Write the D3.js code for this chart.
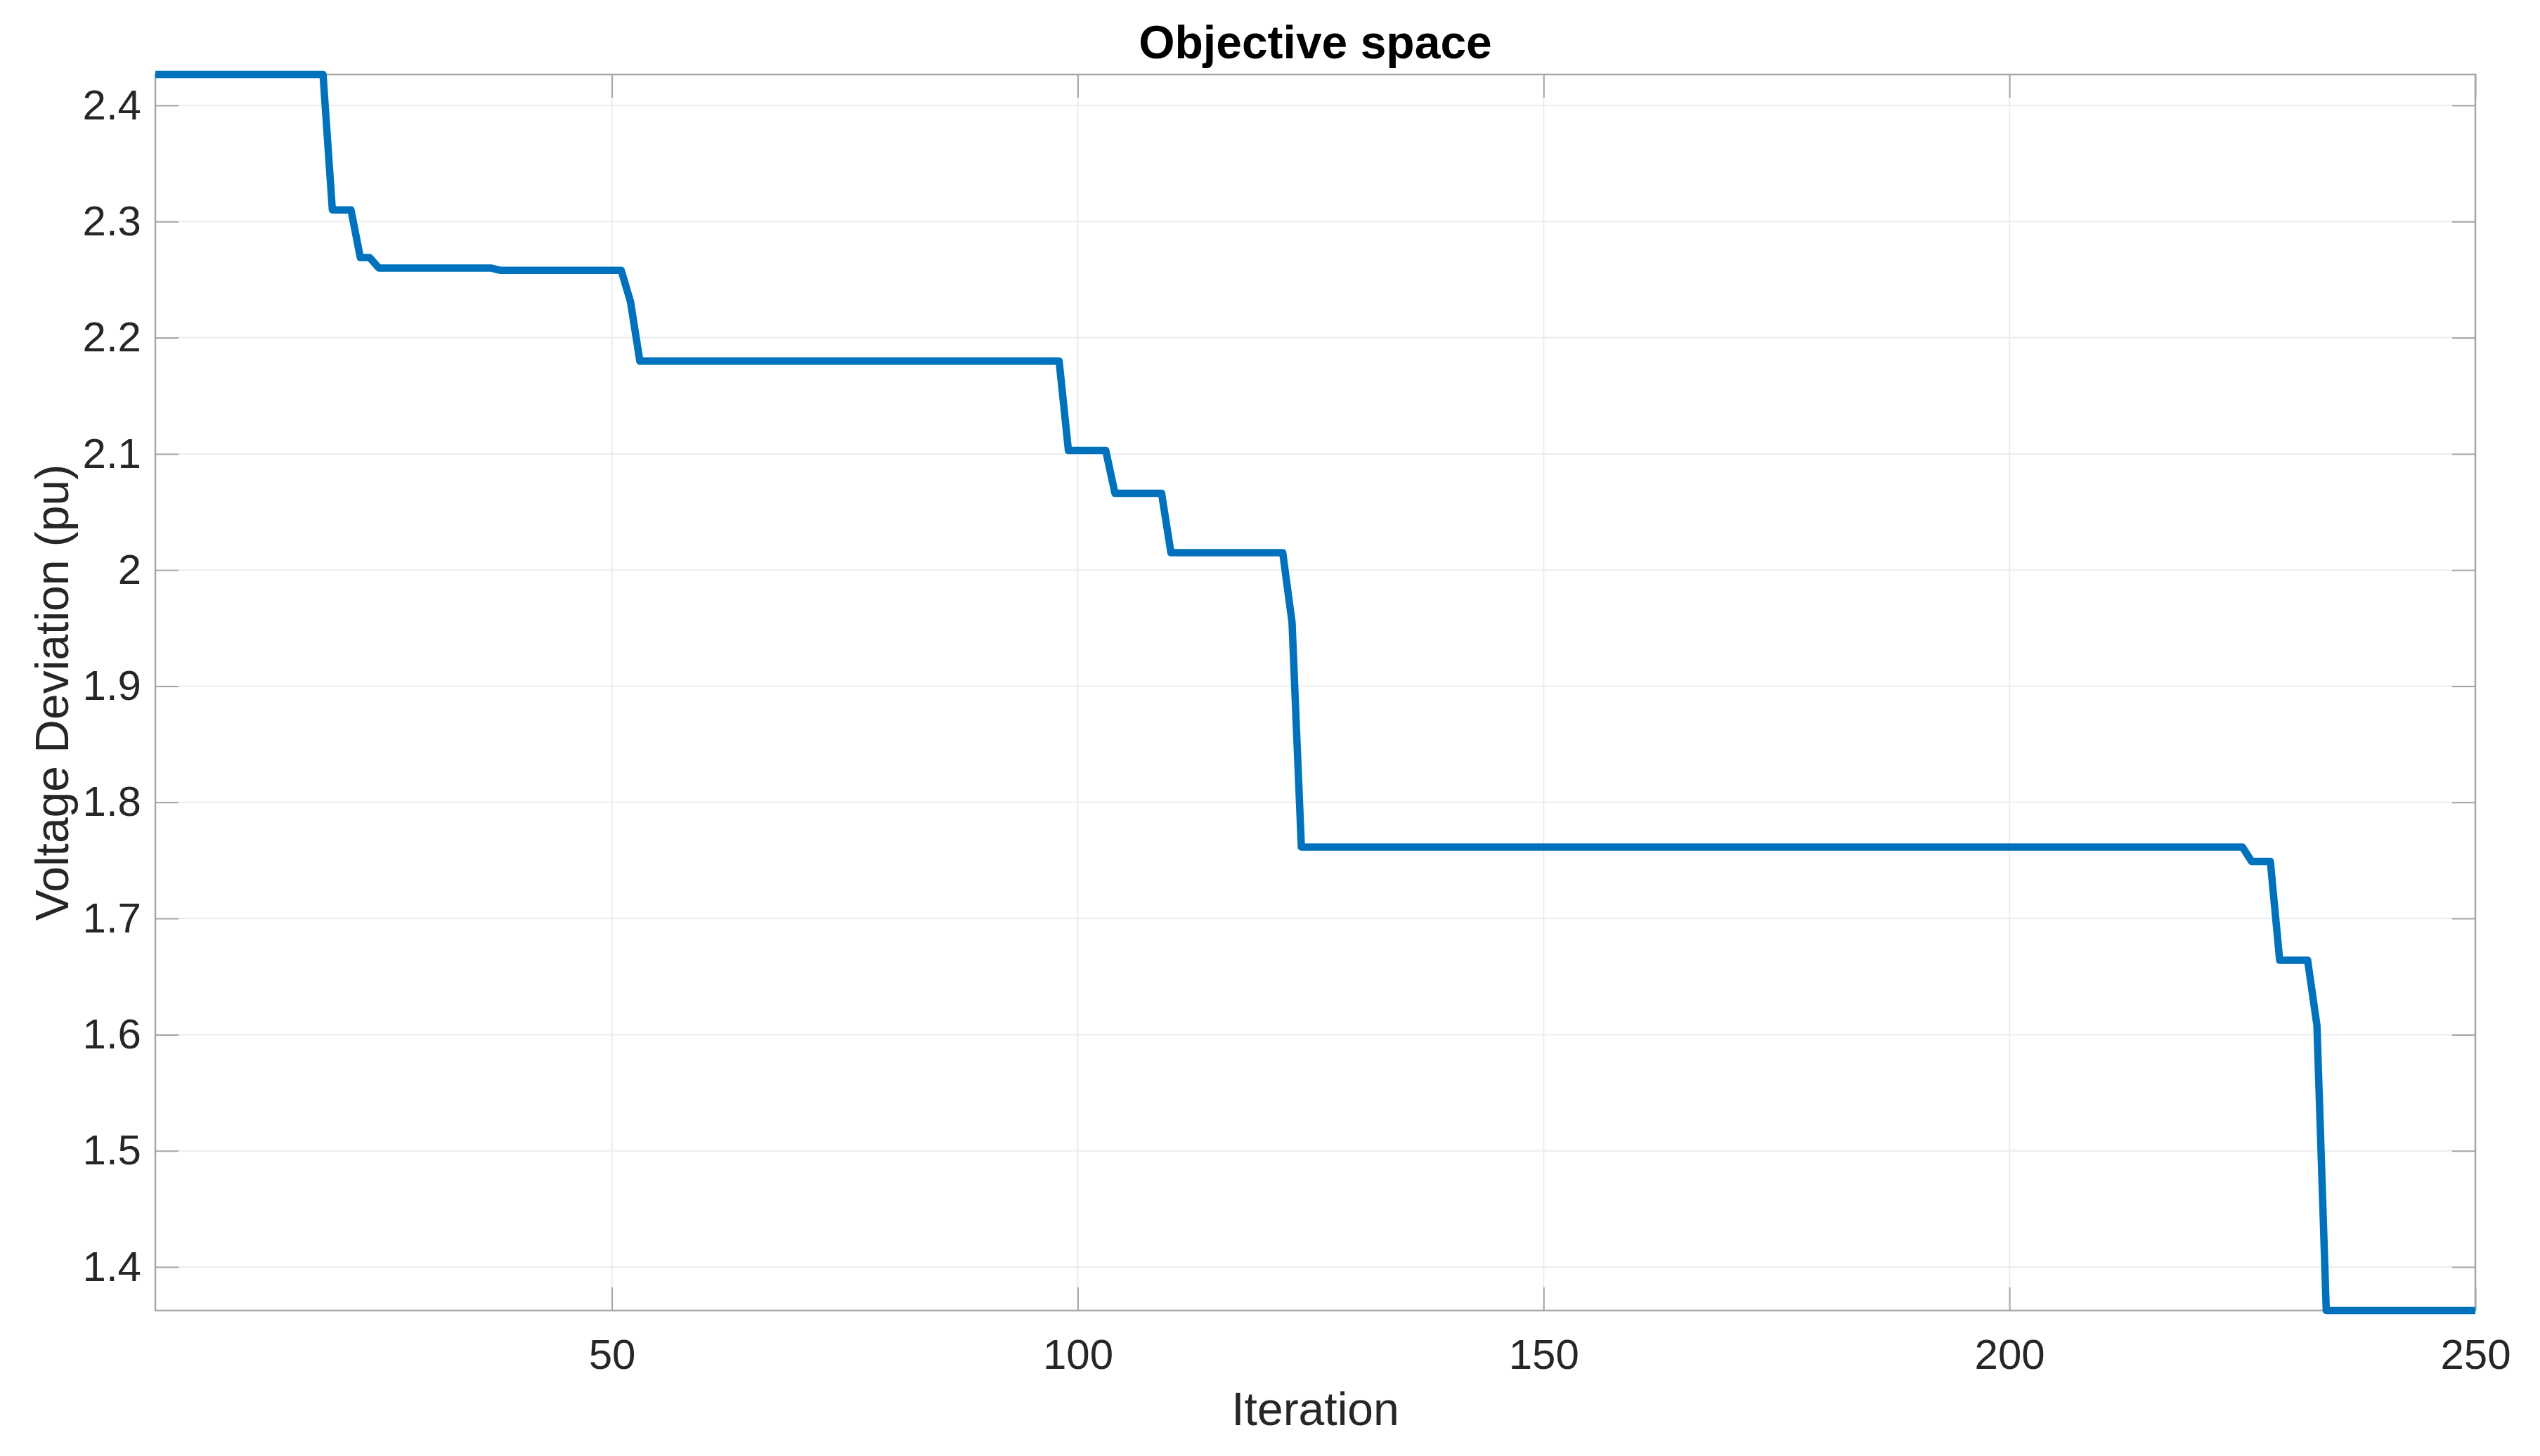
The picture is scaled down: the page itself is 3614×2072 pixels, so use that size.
<!DOCTYPE html>
<html>
<head>
<meta charset="utf-8">
<script src="https://cdn.jsdelivr.net/npm/d3@7"></script>
<style>
  html, body { margin: 0; padding: 0; background: #ffffff; }
  svg { display: block; }
</style>
</head>
<body>
<svg id="chart" width="3614" height="2072"></svg>
<script>
// ---- data ----
const iterations = [1, 19, 20, 22, 23, 24, 25, 37, 38, 51, 52, 53, 98, 99, 103, 104, 109, 110, 122, 123, 124, 225, 226, 228, 229, 232, 233, 234, 250];
const deviation  = [2.4266, 2.4266, 2.31, 2.31, 2.269, 2.269, 2.26, 2.26, 2.258, 2.258, 2.231, 2.18, 2.18, 2.103, 2.103, 2.066, 2.066, 2.015, 2.015, 1.955, 1.7615, 1.7615, 1.749, 1.749, 1.664, 1.664, 1.608, 1.3625, 1.3625];
const xTicks = [50, 100, 150, 200, 250];
const xTickLabels = ["50", "100", "150", "200", "250"];
const yTicks = [1.4, 1.5, 1.6, 1.7, 1.8, 1.9, 2.0, 2.1, 2.2, 2.3, 2.4];
const yTickLabels = ["1.4", "1.5", "1.6", "1.7", "1.8", "1.9", "2", "2.1", "2.2", "2.3", "2.4"];
const xDomain = [1, 250];
const yDomain = [1.3625, 2.4266];
const titleText = "Objective space";
const xLabelText = "Iteration";
const yLabelText = "Voltage Deviation (pu)";

// ---- layout ----
const pLeft = 221, pRight = 3522, pTop = 106, pBottom = 1865;
const tickLen = 33;
const font = "Liberation Sans, Arial, Helvetica, sans-serif";

const svg = d3.select("#chart");
const x = d3.scaleLinear().domain(xDomain).range([pLeft, pRight]);
const y = d3.scaleLinear().domain(yDomain).range([pBottom, pTop]);

// grid
const grid = svg.append("g").attr("stroke", "#ececec").attr("stroke-width", 2);
grid.selectAll("line.gx").data(xTicks).join("line").attr("class", "gx")
  .attr("x1", d => x(d)).attr("x2", d => x(d)).attr("y1", pTop).attr("y2", pBottom);
grid.selectAll("line.gy").data(yTicks).join("line").attr("class", "gy")
  .attr("x1", pLeft).attr("x2", pRight).attr("y1", d => y(d)).attr("y2", d => y(d));

// axes
const fmtX = d => xTickLabels[xTicks.indexOf(d)];
const fmtY = d => yTickLabels[yTicks.indexOf(d)];

function styleAxis(g, showText) {
  g.select(".domain").remove();
  g.selectAll(".tick line").attr("stroke", "#a6a6a6").attr("stroke-width", 2);
  g.selectAll(".tick text").attr("fill", "#262626").style("font-family", font).style("font-size", "60px");
  if (!showText) g.selectAll(".tick text").remove();
}

svg.append("g").attr("transform", `translate(0,${pBottom})`)
  .call(d3.axisBottom(x).tickValues(xTicks).tickFormat(fmtX).tickSizeInner(-tickLen).tickSizeOuter(0).tickPadding(40))
  .call(g => styleAxis(g, true));
svg.append("g").attr("transform", `translate(0,${pTop})`)
  .call(d3.axisTop(x).tickValues(xTicks).tickFormat(fmtX).tickSizeInner(-tickLen).tickSizeOuter(0))
  .call(g => styleAxis(g, false));
svg.append("g").attr("transform", `translate(${pLeft},0)`)
  .call(d3.axisLeft(y).tickValues(yTicks).tickFormat(fmtY).tickSizeInner(-tickLen).tickSizeOuter(0).tickPadding(20))
  .call(g => styleAxis(g, true));
svg.append("g").attr("transform", `translate(${pRight},0)`)
  .call(d3.axisRight(y).tickValues(yTicks).tickFormat(fmtY).tickSizeInner(-tickLen).tickSizeOuter(0))
  .call(g => styleAxis(g, false));

// box
svg.append("rect").attr("x", pLeft).attr("y", pTop).attr("width", pRight - pLeft).attr("height", pBottom - pTop)
  .attr("fill", "none").attr("stroke", "#a6a6a6").attr("stroke-width", 2.5);

// line
const pts = iterations.map((it, i) => [it, deviation[i]]);
svg.append("path").datum(pts)
  .attr("fill", "none").attr("stroke", "#0072BD").attr("stroke-width", 10.5)
  .attr("stroke-linejoin", "round")
  .attr("d", d3.line().x(d => x(d[0])).y(d => y(d[1])));

// title & labels
svg.append("text").attr("x", (pLeft + pRight) / 2).attr("y", 83).attr("text-anchor", "middle")
  .style("font-family", font).style("font-size", "66px").style("font-weight", "bold").attr("fill", "#000")
  .text(titleText);
svg.append("text").attr("x", (pLeft + pRight) / 2).attr("y", 2028).attr("text-anchor", "middle")
  .style("font-family", font).style("font-size", "66px").attr("fill", "#262626")
  .text(xLabelText);
svg.append("text").attr("transform", `translate(97,${(pTop + pBottom) / 2}) rotate(-90)`).attr("text-anchor", "middle")
  .style("font-family", font).style("font-size", "66px").attr("fill", "#262626")
  .text(yLabelText);
</script>
</body>
</html>
